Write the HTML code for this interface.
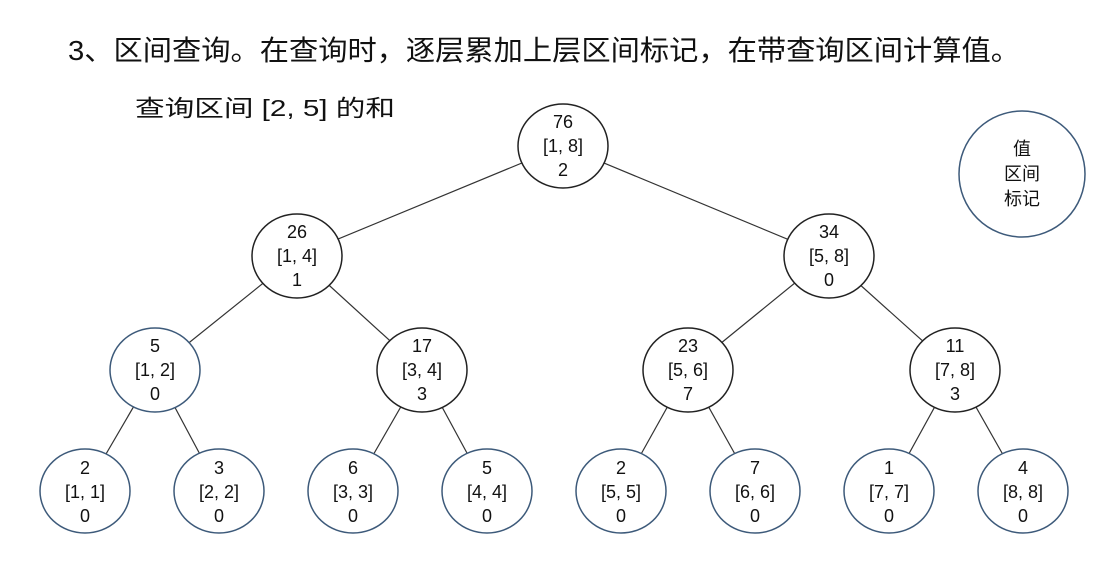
<!DOCTYPE html>
<html><head><meta charset="utf-8"><style>
html,body{margin:0;padding:0;background:#fff;}
svg{display:block;}
text{font-family:"Liberation Sans","Noto Sans CJK SC",sans-serif;fill:#111;}
</style></head><body>
<svg width="1095" height="568" viewBox="0 0 1095 568" xmlns="http://www.w3.org/2000/svg">
<text x="68" y="60" font-size="28" textLength="952" lengthAdjust="spacingAndGlyphs">3、区间查询。在查询时，逐层累加上层区间标记，在带查询区间计算值。</text>
<text x="135" y="116" font-size="23" textLength="260" lengthAdjust="spacingAndGlyphs">查询区间 [2, 5] 的和</text>
<g stroke="#333" stroke-width="1.2">
<line x1="563" y1="146" x2="297" y2="256"/>
<line x1="563" y1="146" x2="828" y2="256"/>
<line x1="297" y1="256" x2="155" y2="370"/>
<line x1="297" y1="256" x2="422" y2="370"/>
<line x1="828" y1="256" x2="688" y2="370"/>
<line x1="828" y1="256" x2="955" y2="370"/>
<line x1="155" y1="370" x2="85" y2="490"/>
<line x1="155" y1="370" x2="219" y2="490"/>
<line x1="422" y1="370" x2="353" y2="490"/>
<line x1="422" y1="370" x2="487" y2="490"/>
<line x1="688" y1="370" x2="621" y2="490"/>
<line x1="688" y1="370" x2="755" y2="490"/>
<line x1="955" y1="370" x2="889" y2="490"/>
<line x1="955" y1="370" x2="1023" y2="490"/>
</g>
<g fill="#fff" stroke-width="1.5">
<ellipse cx="563" cy="146" rx="45" ry="42" stroke="#222"/>
<ellipse cx="297" cy="256" rx="45" ry="42" stroke="#222"/>
<ellipse cx="829" cy="256" rx="45" ry="42" stroke="#222"/>
<ellipse cx="155" cy="370" rx="45" ry="42" stroke="#3d5a7a"/>
<ellipse cx="422" cy="370" rx="45" ry="42" stroke="#222"/>
<ellipse cx="688" cy="370" rx="45" ry="42" stroke="#222"/>
<ellipse cx="955" cy="370" rx="45" ry="42" stroke="#222"/>
<ellipse cx="85" cy="491" rx="45" ry="42" stroke="#3d5a7a"/>
<ellipse cx="219" cy="491" rx="45" ry="42" stroke="#3d5a7a"/>
<ellipse cx="353" cy="491" rx="45" ry="42" stroke="#3d5a7a"/>
<ellipse cx="487" cy="491" rx="45" ry="42" stroke="#3d5a7a"/>
<ellipse cx="621" cy="491" rx="45" ry="42" stroke="#3d5a7a"/>
<ellipse cx="755" cy="491" rx="45" ry="42" stroke="#3d5a7a"/>
<ellipse cx="889" cy="491" rx="45" ry="42" stroke="#3d5a7a"/>
<ellipse cx="1023" cy="491" rx="45" ry="42" stroke="#3d5a7a"/>
<circle cx="1022" cy="174" r="63" stroke="#3d5a7a"/>
</g>
<g font-size="18" text-anchor="middle">
<text x="563" y="128">76</text><text x="563" y="152">[1, 8]</text><text x="563" y="176">2</text>
<text x="297" y="238">26</text><text x="297" y="262">[1, 4]</text><text x="297" y="286">1</text>
<text x="829" y="238">34</text><text x="829" y="262">[5, 8]</text><text x="829" y="286">0</text>
<text x="155" y="352">5</text><text x="155" y="376">[1, 2]</text><text x="155" y="400">0</text>
<text x="422" y="352">17</text><text x="422" y="376">[3, 4]</text><text x="422" y="400">3</text>
<text x="688" y="352">23</text><text x="688" y="376">[5, 6]</text><text x="688" y="400">7</text>
<text x="955" y="352">11</text><text x="955" y="376">[7, 8]</text><text x="955" y="400">3</text>
<text x="85" y="474">2</text><text x="85" y="498">[1, 1]</text><text x="85" y="522">0</text>
<text x="219" y="474">3</text><text x="219" y="498">[2, 2]</text><text x="219" y="522">0</text>
<text x="353" y="474">6</text><text x="353" y="498">[3, 3]</text><text x="353" y="522">0</text>
<text x="487" y="474">5</text><text x="487" y="498">[4, 4]</text><text x="487" y="522">0</text>
<text x="621" y="474">2</text><text x="621" y="498">[5, 5]</text><text x="621" y="522">0</text>
<text x="755" y="474">7</text><text x="755" y="498">[6, 6]</text><text x="755" y="522">0</text>
<text x="889" y="474">1</text><text x="889" y="498">[7, 7]</text><text x="889" y="522">0</text>
<text x="1023" y="474">4</text><text x="1023" y="498">[8, 8]</text><text x="1023" y="522">0</text>
<text x="1022" y="155">值</text><text x="1022" y="180">区间</text><text x="1022" y="205">标记</text>
</g>
</svg>
</body></html>
